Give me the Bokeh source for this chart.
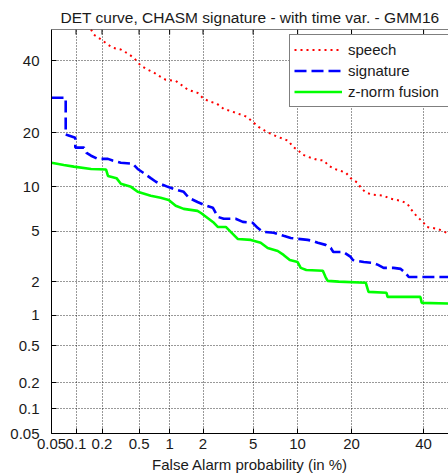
import math
from statistics import NormalDist
from bokeh.plotting import figure
from bokeh.models import Range1d, FixedTicker, Legend, LegendItem, Span
from bokeh.embed import file_html
from bokeh.resources import INLINE

_ppf = NormalDist().inv_cdf


def probit(pct):
    return _ppf(pct / 100.0)


# ---- data (percent) ----
tick_values = [0.05, 0.1, 0.2, 0.5, 1, 2, 5, 10, 20, 40]
tick_labels = ["0.05", "0.1", "0.2", "0.5", "1", "2", "5", "10", "20", "40"]
axis_max = 50.0

speech_fa = [0.15, 0.162, 0.197, 0.233, 0.262, 0.322, 0.383, 0.441, 0.522, 0.61,
             0.705, 0.786, 0.92, 1.14, 1.47, 1.79, 2.03, 2.32, 2.61, 2.97,
             3.32, 4.05, 4.47, 4.97, 5.47, 6.06, 6.65, 7.44, 8.79, 9.31,
             10.0, 10.75, 11.5, 13.2, 14.3, 15.2, 16.35, 18.7, 19.8, 21.4,
             22.4, 23.6, 25.2, 28.1, 30.1, 33.2, 35.0, 36.0, 37.5, 38.7,
             40.0, 40.9, 44.5, 47.4, 49.3]
speech_miss = [50.0, 48.3, 46.7, 45.1, 44.1, 43.5, 42.2, 40.9, 38.4, 37.2,
               36.3, 35.3, 34.1, 33.8, 31.2, 30.3, 28.6, 27.8, 27.3, 25.9,
               25.4, 24.4, 23.9, 22.6, 21.4, 20.5, 19.8, 19.1, 18.2, 17.0,
               16.35, 15.4, 15.0, 14.4, 14.3, 13.35, 12.8, 12.2, 11.3, 10.6,
               9.7, 9.18, 8.92, 8.79, 8.4, 8.13, 7.78, 7.2, 6.55, 6.16,
               5.77, 5.39, 5.22, 4.89, 4.7]

signature_fa = [0.05, 0.075, 0.075, 0.098, 0.098, 0.124, 0.133, 0.15, 0.179, 0.233,
                0.262, 0.322, 0.431, 0.484, 0.547, 0.656, 0.737, 0.859, 0.961, 1.09,
                1.35, 1.50, 1.79, 2.03, 2.42, 2.66, 2.97, 3.69, 4.19, 4.97,
                5.39, 5.86, 6.98, 8.13, 9.05, 11.5, 12.3, 13.2, 14.6, 15.6,
                16.1, 18.2, 19.8, 20.3, 22.9, 25.4, 26.6, 28.1, 30.9, 33.0,
                34.4, 35.4, 50.0]
signature_miss = [28.9, 28.9, 19.6, 18.9, 16.8, 16.8, 15.75, 15.2, 14.6, 14.6,
                  14.3, 13.9, 13.7, 12.8, 12.2, 11.3, 10.75, 10.3, 10.0, 9.7,
                  9.31, 8.53, 8.0, 7.67, 7.33, 6.35, 6.16, 6.16, 5.86, 5.77,
                  5.31, 4.97, 4.89, 4.64, 4.47, 4.33, 4.26, 4.12, 3.97, 3.76,
                  3.50, 3.50, 3.20, 3.02, 2.91, 2.86, 2.76, 2.61, 2.61, 2.56,
                  2.37, 2.19, 2.19]

fusion_fa = [0.05, 0.071, 0.094, 0.15, 0.222, 0.233, 0.289, 0.322, 0.412, 0.484,
             0.656, 0.82, 0.98, 1.14, 1.35, 1.79, 1.92, 2.23, 2.47, 2.66,
             3.09, 3.38, 3.83, 4.81, 5.67, 6.35, 7.44, 8.13, 8.92, 10.0,
             10.45, 11.3, 14.1, 14.6, 15.0, 17.2, 23.4, 24.1, 28.9, 29.2,
             39.0, 39.4, 48.0, 50.0]
fusion_miss = [13.9, 13.5, 13.2, 12.8, 12.7, 11.65, 11.3, 10.45, 10.0, 9.31,
               8.79, 8.53, 8.26, 7.56, 7.2, 6.98, 6.75, 6.16, 5.77, 5.39,
               5.39, 4.97, 4.40, 4.33, 4.12, 3.76, 3.56, 3.32, 3.02, 2.91,
               2.61, 2.51, 2.47, 2.19, 2.03, 2.0, 1.96, 1.63, 1.60, 1.47,
               1.47, 1.30, 1.28, 1.25]

FONT = "Liberation Sans"
TXT = "#1a1a1a"

p = figure(width=448, height=476,
           x_range=Range1d(probit(0.05), probit(48.0)),
           y_range=Range1d(probit(0.05), probit(axis_max)),
           output_backend="svg", toolbar_location=None,
           min_border_left=51, min_border_right=0,
           min_border_top=29, min_border_bottom=43,
           title="DET curve, CHASM signature - with time var. - GMM16")
p.outline_line_color = None
p.background_fill_color = "white"
p.border_fill_color = "white"

p.title.text_font = FONT
p.title.text_font_size = "15.5px"
p.title.text_font_style = "normal"
p.title.text_color = TXT
p.title.align = "center"
p.title.vertical_align = "top"
p.title.offset = 3
p.title.standoff = 4

ticks = [probit(v) for v in tick_values]
overrides = {t: lab for t, lab in zip(ticks, tick_labels)}

for ax in (p.xaxis[0], p.yaxis[0]):
    ax.ticker = FixedTicker(ticks=ticks)
    ax.major_label_overrides = overrides
    ax.major_tick_in = 5
    ax.major_tick_out = 0
    ax.minor_tick_line_color = None
    ax.axis_line_color = "black"
    ax.major_tick_line_color = "black"
    ax.major_label_text_font = FONT
    ax.major_label_text_font_size = "15px"
    ax.major_label_text_color = TXT

p.xaxis[0].major_label_standoff = 5
p.xaxis[0].axis_label = "False Alarm probability (in %)"
p.xaxis[0].axis_label_text_font = FONT
p.xaxis[0].axis_label_text_font_size = "15px"
p.xaxis[0].axis_label_text_font_style = "normal"
p.xaxis[0].axis_label_text_color = TXT
p.xaxis[0].axis_label_standoff = 4
p.yaxis[0].major_label_standoff = 12

# top border of the box and its inward tick marks
p.add_layout(Span(location=probit(axis_max), dimension="width",
                  line_color="black", line_width=1))
p.ray(x=ticks, y=[probit(axis_max)] * len(ticks), length=5, length_units="screen",
      angle=-math.pi / 2, line_color="black", line_width=1)

for g in (p.xgrid[0], p.ygrid[0]):
    g.grid_line_color = "black"
    g.grid_line_alpha = 0.8
    g.grid_line_dash = "1 2"
    g.grid_line_width = 1

r_speech = p.line([probit(v) for v in speech_fa], [probit(v) for v in speech_miss],
                  line_color="#ff0000", line_width=2, line_dash="2 4")
r_sig = p.line([probit(v) for v in signature_fa], [probit(v) for v in signature_miss],
               line_color="#0000ff", line_width=2.6, line_dash="12 5")
r_fus = p.line([probit(v) for v in fusion_fa], [probit(v) for v in fusion_miss],
               line_color="#00ff00", line_width=2.6)

legend = Legend(items=[LegendItem(label="speech", renderers=[r_speech]),
                       LegendItem(label="signature", renderers=[r_sig]),
                       LegendItem(label="z-norm fusion", renderers=[r_fus])],
                location=(238, 326), margin=0, padding=4, spacing=0,
                glyph_width=48, glyph_height=21, label_height=21,
                label_standoff=6, label_width=100,
                label_text_font=FONT, label_text_font_size="15px",
                label_text_color=TXT,
                border_line_color="black", border_line_width=1,
                background_fill_color="white", background_fill_alpha=1)
p.add_layout(legend)

open("out.html", "w").write(file_html(p, INLINE))
